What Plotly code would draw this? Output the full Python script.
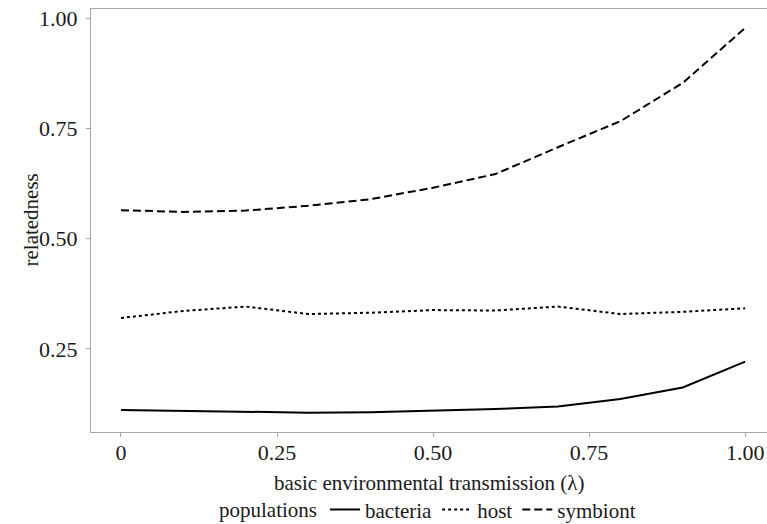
import plotly.graph_objects as go

x_vals = [0, 0.1, 0.2, 0.3, 0.4, 0.5, 0.6, 0.7, 0.8, 0.9, 1.0]
bacteria = [0.111, 0.109, 0.107, 0.105, 0.106, 0.109, 0.113, 0.119, 0.136, 0.162, 0.221]
host = [0.320, 0.336, 0.346, 0.329, 0.332, 0.338, 0.337, 0.346, 0.329, 0.334, 0.342]
symbiont = [0.565, 0.561, 0.564, 0.575, 0.590, 0.616, 0.647, 0.708, 0.767, 0.854, 0.979]

x_ticks = [0, 0.25, 0.5, 0.75, 1.0]
x_ticklabels = ["0", "0.25", "0.50", "0.75", "1.00"]
y_ticks = [0.25, 0.5, 0.75, 1.0]
y_ticklabels = ["0.25", "0.50", "0.75", "1.00"]

FONT = "Liberation Serif, Times New Roman, serif"
TXT = "#1a1a1a"

fig = go.Figure()
fig.add_trace(go.Scatter(x=x_vals, y=bacteria, mode="lines", name="bacteria",
                         line=dict(color="black", width=2, dash="solid")))
fig.add_trace(go.Scatter(x=x_vals, y=host, mode="lines", name="host",
                         line=dict(color="black", width=2, dash="3px,3px")))
fig.add_trace(go.Scatter(x=x_vals, y=symbiont, mode="lines", name="symbiont",
                         line=dict(color="black", width=2, dash="8px,4px")))

fig.update_layout(
    width=767, height=524,
    margin=dict(l=91, r=0, t=9, b=92, autoexpand=False),
    plot_bgcolor="white", paper_bgcolor="white",
    font=dict(family=FONT, size=21, color=TXT),
    showlegend=True,
    legend=dict(
        orientation="h", x=0.5, xanchor="center", y=-0.184, yanchor="middle",
        title=dict(text="populations", side="left", font=dict(size=21)),
        font=dict(size=21), itemwidth=30, tracegroupgap=0,
    ),
    xaxis=dict(
        range=[-0.048, 1.035], tickmode="array", tickvals=x_ticks, ticktext=x_ticklabels,
        showgrid=False, zeroline=False, showline=True, linecolor="#a6a6a6", linewidth=1.2,
        mirror=True, ticks="outside", ticklen=4, tickcolor="#a6a6a6", automargin=False,
        tickfont=dict(size=22, color=TXT), ticklabelstandoff=-4,
    ),
    yaxis=dict(
        range=[0.061, 1.022], tickmode="array", tickvals=y_ticks, ticktext=y_ticklabels,
        showgrid=False, zeroline=False, showline=True, linecolor="#a6a6a6", linewidth=1.2,
        mirror=True, ticks="outside", ticklen=4, tickcolor="#a6a6a6", automargin=False,
        tickfont=dict(size=22, color=TXT), ticklabelstandoff=4,
    ),
    annotations=[
        dict(text="basic environmental transmission (λ)", xref="paper", yref="paper",
             x=0.5, y=0, yshift=-51, xanchor="center", yanchor="middle",
             showarrow=False, font=dict(size=21, color=TXT)),
        dict(text="relatedness", xref="paper", yref="paper",
             x=0, y=0.5, xshift=-61, xanchor="center", yanchor="middle", textangle=-90,
             showarrow=False, font=dict(size=21, color=TXT)),
    ],
)

fig.write_html(
    "out.html",
    config={"displayModeBar": False},
    post_script="document.body.style.margin='0';document.body.style.overflow='hidden';",
)
